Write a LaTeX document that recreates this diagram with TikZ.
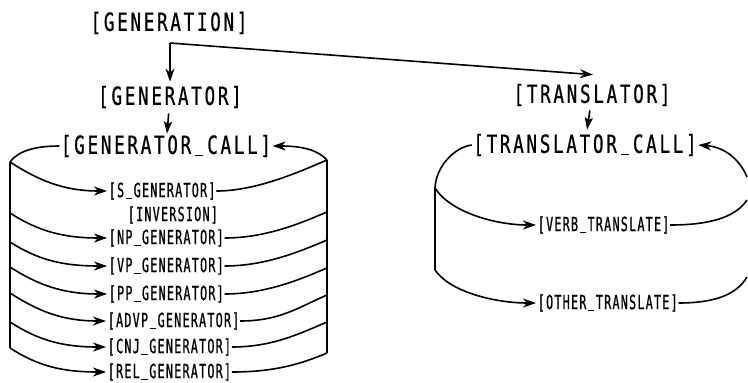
\documentclass[tikz,border=0pt]{standalone}
\usepackage{fontspec}
\usetikzlibrary{arrows.meta,calc}
\newfontfamily\bigfont[FakeStretch=0.7,FakeBold=0.8]{DejaVu Sans Mono}
\newfontfamily\smallfont[FakeStretch=0.6,FakeBold=0.8]{DejaVu Sans Mono}
% set every character of #2 in a box of fixed width #1
\newcommand\spaced[2]{\def\spacedpitch{#1}\spacedloop#2\relax}
\def\spacedloop#1{\ifx#1\relax\else\makebox[\spacedpitch][c]{#1}\expandafter\spacedloop\fi}
\newcommand\bigtext[1]{\spaced{13.3pt}{#1}}
\newcommand\smalltext[1]{\spaced{8.3pt}{#1}}
% underscore drawn as a rule sized by the current font
\newcommand\usc{\rule[-0.09em]{0.34em}{0.06em}}
\begin{document}
\begin{tikzpicture}[x=1pt,y=-1pt,
  big/.style={inner sep=0pt, font=\bigfont\fontsize{25}{25}\selectfont},
  small/.style={inner sep=0pt, anchor=west, font=\smallfont\fontsize{19.5}{19.5}\selectfont},
  wire/.style={line width=1.6pt},
  arr/.style={wire, -{Stealth[length=13pt,width=9pt,inset=4pt]}},
  shortarr/.style={wire, -{Stealth[length=12pt,width=8pt,inset=2pt]}}]
\useasboundingbox (0,0) rectangle (748,383);

% upper level
\node[big] (gen)   at (169,23)  {\bigtext{[GENERATION]}};
\node[big] (gtor)  at (170,97)  {\bigtext{[GENERATOR]}};
\node[big] (gcall) at (166,146) {\bigtext{[GENERATOR\usc CALL]}};
\node[big] (trans) at (592,95)  {\bigtext{[TRANSLATOR]}};
\node[big] (tcall) at (585,145) {\bigtext{[TRANSLATOR\usc CALL]}};

\coordinate (split) at (170,43);
\coordinate (transin) at ($(trans.north)+(1,-9)$);
\draw[arr, shorten >=4pt] (split) -- (gtor.north);
\draw[arr] (split) -- (transin);
\draw[shortarr, shorten <=5pt, shorten >=1pt] (gtor) -- (gcall);
\draw[shortarr, shorten <=4pt, shorten >=4pt] (trans) -- (tcall);

% generator calls
\node[small] (sgen) at (108,191) {\smalltext{[S\usc GENERATOR]}};
\node[small] (inv)  at (127,215) {\smalltext{[INVERSION]}};
\node[small] (np)   at (108,238) {\smalltext{[NP\usc GENERATOR]}};
\node[small] (vp)   at (108,266) {\smalltext{[VP\usc GENERATOR]}};
\node[small] (pp)   at (108,294) {\smalltext{[PP\usc GENERATOR]}};
\node[small] (advp) at (107,321) {\smalltext{[ADVP\usc GENERATOR]}};
\node[small] (cnj)  at (107,347) {\smalltext{[CNJ\usc GENERATOR]}};
\node[small] (rel)  at (107,372) {\smalltext{[REL\usc GENERATOR]}};

\coordinate (l1) at (10,162); \coordinate (r1) at (327,160);
\coordinate (l2) at (10,213); \coordinate (r2) at (327,212);
\coordinate (l3) at (10,242); \coordinate (r3) at (327,240);
\coordinate (l4) at (10,267); \coordinate (r4) at (327,268);
\coordinate (l5) at (10,293); \coordinate (r5) at (327,295);
\coordinate (l6) at (10,322); \coordinate (r6) at (327,322);
\coordinate (l7) at (10,348); \coordinate (r7) at (327,353);

\draw[wire] (l1) -- (l7);
\draw[wire] (r1) -- (r7);
\draw[wire] (l1) .. controls (18,151) and (35,146) .. (gcall.west);
\draw[arr]  (r1) .. controls (318,150) and (302,146) .. (gcall.east);

\foreach \l/\n/\r in {l1/sgen/r1, l2/np/r2, l3/vp/r3, l4/pp/r4, l5/advp/r5, l6/cnj/r6, l7/rel/r7}{
  \draw[arr, shorten >=1pt] (\l) .. controls ($(\l)+(28,18)$) and ($(\n.west)+(-45,0)$) .. (\n.west);
  \draw[wire] (\n.east) .. controls ($(\n.east)+(40,0)$) and ($(\r)+(-28,12)$) .. (\r);
}

% translator calls
\node[small] (verb)  at (537,225) {\smalltext{[VERB\usc TRANSLATE]}};
\node[small] (other) at (537,303) {\smalltext{[OTHER\usc TRANSLATE]}};

\coordinate (tl) at (435,188); \coordinate (bl) at (435,270);
\coordinate (ta) at (747,177); \coordinate (tb) at (747,200); \coordinate (tc) at (747,277);

\draw[wire] (tcall.west) .. controls (455,147) and (436,166) .. (tl) -- (bl);
\draw[arr, shorten >=1pt] (tl) .. controls (450,212) and (495,225) .. (verb.west);
\draw[arr, shorten >=1pt] (bl) .. controls (450,292) and (495,303) .. (other.west);
\draw[arr]  (ta) .. controls (740,160) and (725,147) .. (tcall.east);
\draw[wire] (verb.east) .. controls (715,225) and (737,215) .. (tb);
\draw[wire] (other.east) .. controls (720,303) and (738,292) .. (tc);
\end{tikzpicture}
\end{document}
